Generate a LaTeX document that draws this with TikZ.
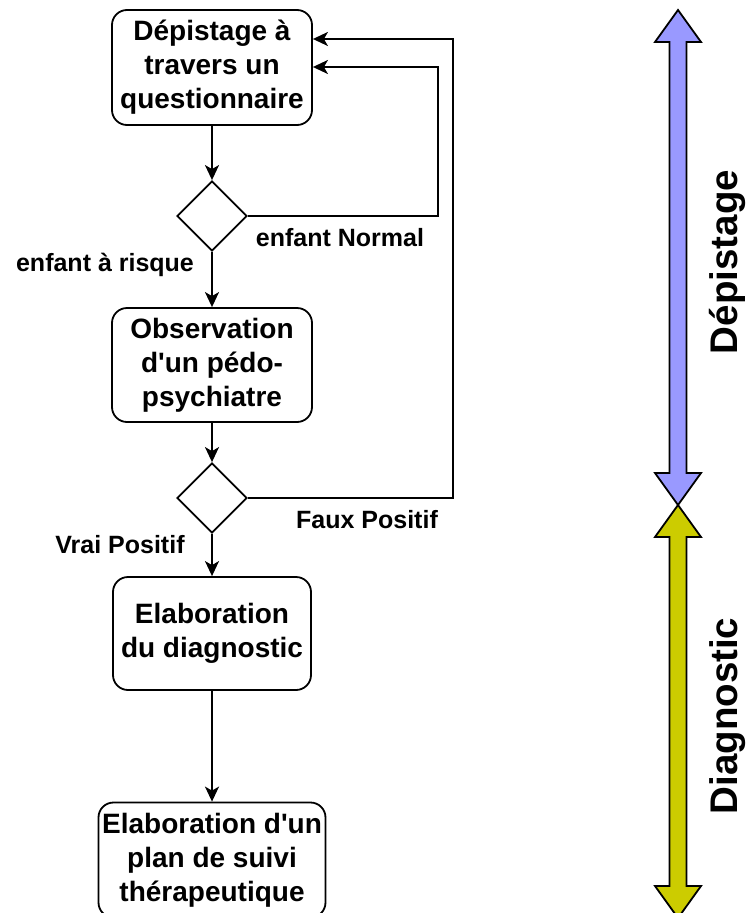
\documentclass[tikz,border=0pt]{standalone}
\usepackage{fontspec}
\setmainfont{Liberation Sans}[Ligatures=TeXOff]
\usetikzlibrary{shapes.geometric,arrows.meta}
\definecolor{phaseblue}{HTML}{9999FF}
\definecolor{phaseolive}{HTML}{CCCC00}
\tikzset{
  stepbox/.style={draw, line width=1.8pt, rounded corners=15pt, align=center,
    font=\fontsize{28}{34}\selectfont\bfseries, inner sep=0pt},
  choice/.style={draw, line width=1.8pt, diamond, minimum width=70pt,
    minimum height=70pt, inner sep=0pt},
  flow/.style={line width=2pt, -{Stealth[length=15pt,width=14pt,inset=4pt]}},
  edgelabel/.style={font=\fontsize{25}{28}\selectfont\bfseries, inner sep=0pt},
  phaselabel/.style={font=\fontsize{38.5}{40}\selectfont\bfseries, rotate=90, inner sep=0pt},
  phasearrow/.style={draw=black, line width=1.8pt, line join=miter}
}
\begin{document}
\begin{tikzpicture}[x=1pt,y=-1pt]
\useasboundingbox (0,0) rectangle (751,913);

% process steps
\node[stepbox, minimum width=200pt, minimum height=115pt] (b1) at (212,67.5)
  {Dépistage à\\travers un\\questionnaire};
\node[choice] (d1) at (212,216) {};
\node[stepbox, minimum width=200pt, minimum height=114pt] (b2) at (212,365)
  {Observation\\d'un pédo-\\psychiatre};
\node[choice] (d2) at (212,498) {};
\node[stepbox, minimum width=198pt, minimum height=113pt] (b3) at (212,633.5)
  {Elaboration\\du diagnostic};
\node[stepbox, minimum width=227pt, minimum height=115pt] (b4) at (212,860)
  {Elaboration d'un\\plan de suivi\\thérapeutique};

% return paths to the questionnaire
\coordinate (r1) at (438,67);
\coordinate (r2) at (453,39);

% connectors
\draw[flow] (b1.south) -- (d1.north);
\draw[flow] (d1.south) -- (b2.north);
\draw[flow] (b2.south) -- (d2.north);
\draw[flow] (d2.south) -- (b3.north);
\draw[flow] (b3.south) -- (b4.north);
\draw[flow] (d1.east) -| (r1) -- (r1 -| b1.east);
\draw[flow] (d2.east) -| (r2) -- (r2 -| b1.east);

% branch labels
\node[edgelabel] (lrisk) at (105,265) {enfant à risque};
\node[edgelabel] (lnorm) at (340,238) {enfant Normal};
\node[edgelabel] (lfaux) at (367,520) {Faux Positif};
\node[edgelabel] (lvrai) at (120,545) {Vrai Positif};

% phase arrows
\path[phasearrow, fill=phaseblue]
  (678,10) -- (701,42) -- (686.5,42) -- (686.5,473) -- (701,473) -- (678,505)
  -- (655,473) -- (669.5,473) -- (669.5,42) -- (655,42) -- cycle;
\path[phasearrow, fill=phaseolive]
  (678,505) -- (701,537) -- (686.5,537) -- (686.5,886) -- (701,886) -- (678,918)
  -- (655,886) -- (669.5,886) -- (669.5,537) -- (655,537) -- cycle;

\node[phaselabel] (pdep) at (727,262) {Dépistage};
\node[phaselabel] (pdiag) at (728,716) {Diagnostic};
\end{tikzpicture}
\end{document}
